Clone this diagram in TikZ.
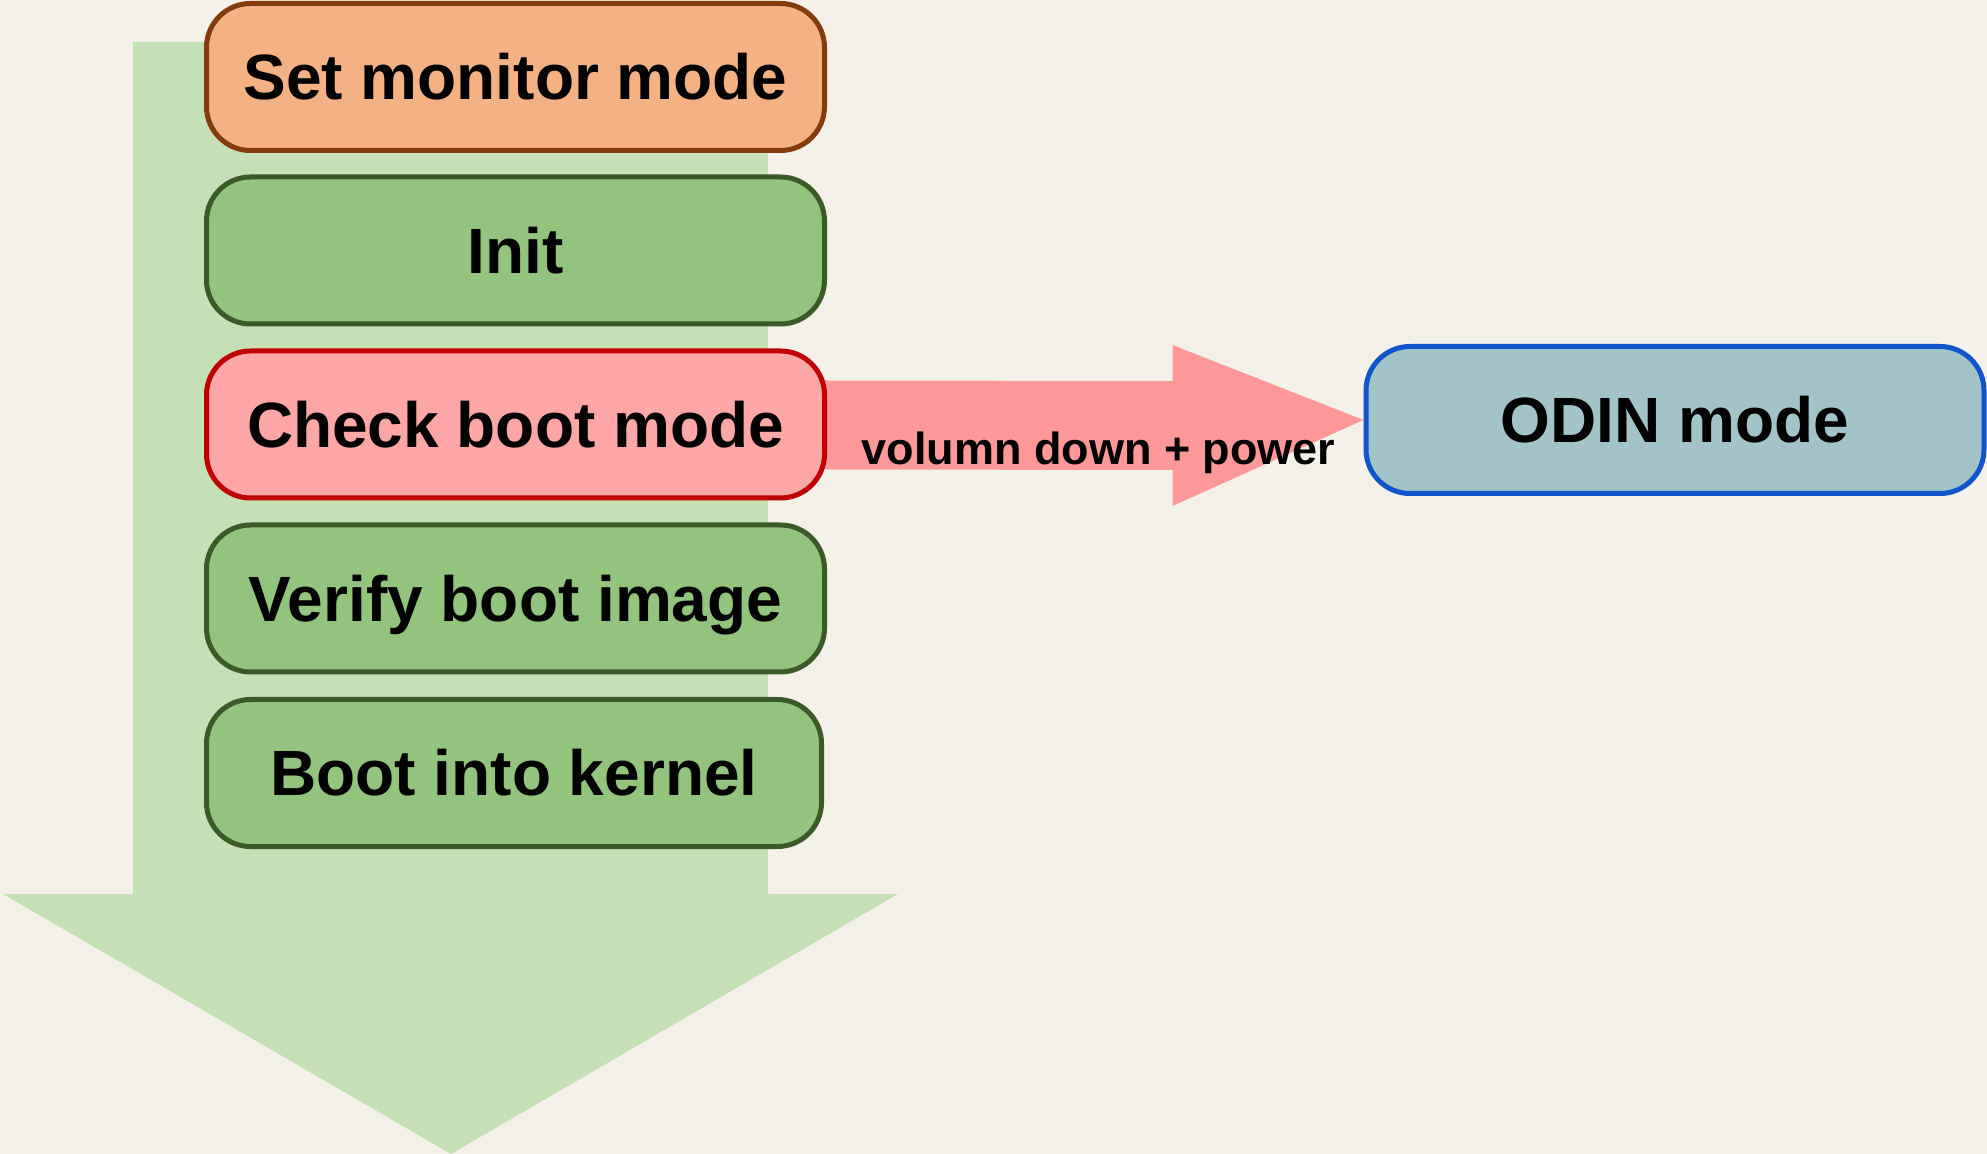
\documentclass[tikz,border=0pt]{standalone}
\usepackage{fontspec}
\setmainfont{Liberation Sans}
\usetikzlibrary{calc,backgrounds}

\definecolor{bgcol}{HTML}{F4F1E9}
\definecolor{flowgreen}{HTML}{C5E0B4}
\definecolor{stepfill}{HTML}{93C47D}
\definecolor{stepline}{HTML}{3A5A27}
\definecolor{setfill}{HTML}{F4B183}
\definecolor{setline}{HTML}{843C0C}
\definecolor{checkfill}{HTML}{FFA6A6}
\definecolor{checkline}{HTML}{C00000}
\definecolor{jumpred}{HTML}{FF9999}
\definecolor{odinfill}{HTML}{A2C4C9}
\definecolor{odinline}{HTML}{1155CC}

\tikzset{
  stagebox/.style={draw, line width=2.5pt, rounded corners=22pt,
    minimum width=309pt, minimum height=73.5pt, inner sep=0pt,
    text height=22.9pt, text depth=0pt,
    font=\fontsize{32}{38}\selectfont\bfseries},
  greenbox/.style={stagebox, fill=stepfill, draw=stepline},
  keylabel/.style={anchor=base, inner sep=0pt,
    font=\fontsize{22.5}{27}\selectfont\bfseries}
}

\begin{document}
\begin{tikzpicture}[x=0.5pt, y=-0.5pt]
  \useasboundingbox (0,0) rectangle (1987,1154);

  % stages
  \node[stagebox, fill=setfill, draw=setline] (setmon) at (515.5,77) {Set monitor mode};
  \node[greenbox] (init) at (515.5,250.5) {Init};
  \node[stagebox, fill=checkfill, draw=checkline] (check) at (515.5,424.5) {Check boot mode};
  \node[greenbox] (verify) at (515.5,598.5) {Verify boot image};
  \node[greenbox, minimum width=307.5pt] (kernel) at (514,773) {Boot into kernel};

  % target mode
  \node[stagebox, fill=odinfill, draw=odinline] (odin) at (1675,420) {ODIN mode};

  \begin{pgfonlayer}{background}
    % canvas
    \fill[bgcol] (0,0) rectangle (1987,1154);
    % big downward flow arrow behind the stages
    \fill[flowgreen] (133,42) -- (768,42) -- (768,894) -- (898,894)
      -- (451,1154) -- (3,894) -- (133,894) -- cycle;
    % block arrow from the boot-mode check to ODIN mode
    \fill[jumpred]
      ($(check.east)+(-2,-44)$) -- ($(odin.west)+(-191,-39)$)
      -- ($(odin.west)+(-191,-75)$) -- (odin.west)
      -- ($(odin.west)+(-191,86)$) -- ($(odin.west)+(-191,50)$)
      -- ($(check.east)+(-2,45)$) -- cycle;
  \end{pgfonlayer}

  \node[keylabel] (keys) at (1098.5,465) {volumn down + power};
\end{tikzpicture}
\end{document}
